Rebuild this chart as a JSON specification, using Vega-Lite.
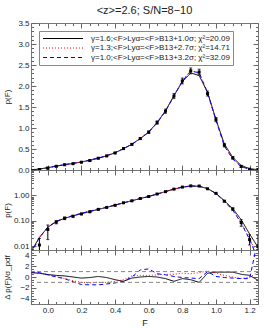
{
  "$schema": "https://vega.github.io/schema/vega-lite/v6.json",
  "padding": {"left": 2, "top": 4, "right": 14, "bottom": 6},
  "spacing": 0,
  "bounds": "flush",
  "config": {
    "view": {"stroke": "#777", "strokeWidth": 1},
    "font": "Liberation Sans",
    "axis": {"labelFontSize": 8, "labelColor": "#222", "titleFontSize": 8, "titleFontWeight": "normal", "titleColor": "#222", "tickColor": "#666", "domain": false, "grid": false, "labelFlush": false, "labelOverlap": false, "labelBound": false, "labelPadding": 7, "minExtent": 0}
  },
  "datasets": {
    "obs": [
      {"F": -0.05, "p": 0.011, "lo": 0.004, "hi": 0.02},
      {"F": 0.0, "p": 0.045, "lo": 0.018, "hi": 0.068},
      {"F": 0.05, "p": 0.088, "lo": 0.075, "hi": 0.101},
      {"F": 0.1, "p": 0.125, "lo": 0.11, "hi": 0.14},
      {"F": 0.15, "p": 0.15, "lo": 0.138, "hi": 0.162},
      {"F": 0.2, "p": 0.185, "lo": 0.173, "hi": 0.197},
      {"F": 0.25, "p": 0.225, "lo": 0.213, "hi": 0.237},
      {"F": 0.3, "p": 0.28, "lo": 0.267, "hi": 0.293},
      {"F": 0.35, "p": 0.335, "lo": 0.321, "hi": 0.349},
      {"F": 0.4, "p": 0.405, "lo": 0.39, "hi": 0.42},
      {"F": 0.45, "p": 0.51, "lo": 0.492, "hi": 0.528},
      {"F": 0.5, "p": 0.61, "lo": 0.59, "hi": 0.63},
      {"F": 0.55, "p": 0.75, "lo": 0.725, "hi": 0.775},
      {"F": 0.6, "p": 0.9, "lo": 0.87, "hi": 0.93},
      {"F": 0.65, "p": 1.13, "lo": 1.09, "hi": 1.17},
      {"F": 0.7, "p": 1.4, "lo": 1.35, "hi": 1.45},
      {"F": 0.75, "p": 1.76, "lo": 1.7, "hi": 1.82},
      {"F": 0.8, "p": 2.12, "lo": 2.05, "hi": 2.19},
      {"F": 0.85, "p": 2.36, "lo": 2.29, "hi": 2.43},
      {"F": 0.9, "p": 2.33, "lo": 2.26, "hi": 2.4},
      {"F": 0.95, "p": 1.82, "lo": 1.76, "hi": 1.88},
      {"F": 1.0, "p": 1.2, "lo": 1.15, "hi": 1.25},
      {"F": 1.05, "p": 0.59, "lo": 0.55, "hi": 0.63},
      {"F": 1.1, "p": 0.29, "lo": 0.26, "hi": 0.32},
      {"F": 1.15, "p": 0.085, "lo": 0.06, "hi": 0.11},
      {"F": 1.2, "p": 0.018, "lo": 0.011, "hi": 0.028},
      {"F": 1.25, "p": 0.01, "lo": 0.004, "hi": 0.026}
    ],
    "model": [
      {"F": -0.1, "a": 0.006, "b": 0.0055, "c": 0.005},
      {"F": -0.05, "a": 0.022, "b": 0.021, "c": 0.022},
      {"F": 0.0, "a": 0.055, "b": 0.055, "c": 0.056},
      {"F": 0.05, "a": 0.092, "b": 0.092, "c": 0.094},
      {"F": 0.1, "a": 0.125, "b": 0.126, "c": 0.128},
      {"F": 0.15, "a": 0.155, "b": 0.157, "c": 0.16},
      {"F": 0.2, "a": 0.19, "b": 0.193, "c": 0.196},
      {"F": 0.25, "a": 0.23, "b": 0.235, "c": 0.238},
      {"F": 0.3, "a": 0.278, "b": 0.283, "c": 0.286},
      {"F": 0.35, "a": 0.335, "b": 0.34, "c": 0.343},
      {"F": 0.4, "a": 0.41, "b": 0.412, "c": 0.415},
      {"F": 0.45, "a": 0.505, "b": 0.505, "c": 0.508},
      {"F": 0.5, "a": 0.615, "b": 0.612, "c": 0.612},
      {"F": 0.55, "a": 0.75, "b": 0.748, "c": 0.746},
      {"F": 0.6, "a": 0.905, "b": 0.905, "c": 0.9},
      {"F": 0.65, "a": 1.13, "b": 1.13, "c": 1.12},
      {"F": 0.7, "a": 1.41, "b": 1.41, "c": 1.4},
      {"F": 0.75, "a": 1.77, "b": 1.77, "c": 1.76},
      {"F": 0.8, "a": 2.1, "b": 2.12, "c": 2.12},
      {"F": 0.85, "a": 2.31, "b": 2.38, "c": 2.35},
      {"F": 0.9, "a": 2.25, "b": 2.3, "c": 2.32},
      {"F": 0.95, "a": 1.85, "b": 1.82, "c": 1.84},
      {"F": 1.0, "a": 1.2, "b": 1.19, "c": 1.19},
      {"F": 1.05, "a": 0.62, "b": 0.58, "c": 0.57},
      {"F": 1.1, "a": 0.3, "b": 0.27, "c": 0.26},
      {"F": 1.15, "a": 0.11, "b": 0.085, "c": 0.08},
      {"F": 1.2, "a": 0.03, "b": 0.02, "c": 0.018},
      {"F": 1.25, "a": 0.009, "b": 0.004, "c": 0.003}
    ],
    "resid": [
      {"F": -0.1, "a": 0.8, "b": 0.9, "c": 1.0},
      {"F": -0.05, "a": 0.7, "b": 0.7, "c": 0.8},
      {"F": 0.0, "a": 0.45, "b": 0.4, "c": 0.4},
      {"F": 0.05, "a": 0.3, "b": 0.1, "c": 0.0},
      {"F": 0.1, "a": 0.2, "b": -0.3, "c": -0.3},
      {"F": 0.15, "a": 0.0, "b": -0.7, "c": -0.9},
      {"F": 0.2, "a": -0.2, "b": -1.0, "c": -1.4},
      {"F": 0.25, "a": -0.1, "b": -1.1, "c": -1.45},
      {"F": 0.3, "a": 0.1, "b": -1.0, "c": -1.45},
      {"F": 0.35, "a": -0.1, "b": -1.0, "c": -1.3},
      {"F": 0.4, "a": -0.5, "b": -0.8, "c": -1.1},
      {"F": 0.45, "a": -0.8, "b": -0.5, "c": -0.8},
      {"F": 0.5, "a": -0.2, "b": 0.2, "c": 0.0},
      {"F": 0.55, "a": 0.0, "b": 0.3, "c": 1.3},
      {"F": 0.6, "a": 0.1, "b": 0.3, "c": 1.5},
      {"F": 0.65, "a": 0.0, "b": 0.4, "c": 0.6},
      {"F": 0.7, "a": -0.3, "b": 0.5, "c": 0.4},
      {"F": 0.75, "a": -0.8, "b": 0.5, "c": 0.1},
      {"F": 0.8, "a": -0.3, "b": 0.7, "c": -0.1},
      {"F": 0.85, "a": -0.5, "b": 0.6, "c": -0.2},
      {"F": 0.9, "a": -1.0, "b": 0.8, "c": -0.3},
      {"F": 0.95, "a": 0.7, "b": 1.1, "c": 1.0},
      {"F": 1.0, "a": 0.9, "b": 0.7, "c": 0.1},
      {"F": 1.05, "a": 0.9, "b": 0.3, "c": -0.1},
      {"F": 1.1, "a": 0.9, "b": 0.0, "c": -0.2},
      {"F": 1.15, "a": 0.5, "b": -0.3, "c": -0.3},
      {"F": 1.2, "a": 0.3, "b": 0.0, "c": -0.3},
      {"F": 1.25, "a": -0.6, "b": 0.8, "c": 7.0}
    ],
    "bands": [{"y": 1}, {"y": -1}]
  },
  "resolve": {"legend": {"color": "independent", "strokeDash": "independent"}},
  "vconcat": [
    {
      "width": 227,
      "height": 147,
      "title": {"text": "<z>=2.6; S/N=8−10", "fontSize": 11, "fontWeight": "normal", "color": "#222", "offset": 3, "anchor": "middle"},
      "resolve": {"axis": {"x": "independent", "y": "independent"}},
      "layer": [
        {
          "data": {"name": "model"},
          "transform": [{"fold": ["a", "b", "c"], "as": ["model", "p"]}],
          "mark": {"type": "line", "strokeWidth": 1, "clip": true},
          "encoding": {
            "x": {"field": "F", "type": "quantitative", "scale": {"domain": [-0.1, 1.25], "nice": false, "zero": false},
              "axis": {"orient": "bottom", "title": null, "labels": false, "maxExtent": 0,
                "values": [-0.1,-0.05,0,0.05,0.1,0.15,0.2,0.25,0.3,0.35,0.4,0.45,0.5,0.55,0.6,0.65,0.7,0.75,0.8,0.85,0.9,0.95,1,1.05,1.1,1.15,1.2,1.25],
                "tickSize": {"condition": {"test": "abs(datum.value/0.2 - round(datum.value/0.2)) < 0.01", "value": -5}, "value": -2.5}}},
            "y": {"field": "p", "type": "quantitative", "scale": {"domain": [0, 3.5], "nice": false, "zero": false},
              "axis": {"orient": "left", "title": "p(F)", "titleX": -20,
                "values": [0,0.1,0.2,0.3,0.4,0.5,0.6,0.7,0.8,0.9,1,1.1,1.2,1.3,1.4,1.5,1.6,1.7,1.8,1.9,2,2.1,2.2,2.3,2.4,2.5,2.6,2.7,2.8,2.9,3,3.1,3.2,3.3,3.4,3.5],
                "labelExpr": "abs(datum.value*2 - round(datum.value*2)) < 0.01 ? format(datum.value, '.1f') : ''",
                "tickSize": {"condition": {"test": "abs(datum.value*2 - round(datum.value*2)) < 0.01", "value": -5}, "value": -2.5}}},
            "color": {"field": "model", "type": "nominal", "scale": {"domain": ["a", "b", "c"], "range": ["#000000", "#ff0000", "#0000ff"]},
              "legend": {"title": null, "orient": "none", "legendX": 8, "legendY": 8, "symbolType": "stroke", "symbolSize": 1600, "symbolStrokeWidth": 1.2, "clipHeight": 9, "rowPadding": 0.5, "labelFontSize": 8, "labelOffset": 7, "labelLimit": 220, "padding": 3, "strokeColor": "#888", "fillColor": "white", "labelColor": "#222",
                "encode": {"symbols": {"update": {"stroke": {"scale": "color", "field": "value"}}}},
                "labelExpr": "datum.label == 'a' ? 'γ=1.6;<F>Lyα=<F>B13+1.0σ; χ²=20.09' : datum.label == 'b' ? 'γ=1.3;<F>Lyα=<F>B13+2.7σ; χ²=14.71' : 'γ=1.0;<F>Lyα=<F>B13+3.2σ; χ²=32.09'"}},
            "strokeDash": {"field": "model", "type": "nominal", "scale": {"domain": ["a", "b", "c"], "range": [[1, 0], [1, 2], [4, 3]]}}
          }
        },
        {
          "data": {"name": "obs"},
          "mark": {"type": "errorbar", "ticks": {"size": 3, "color": "black"}, "rule": {"color": "black"}, "clip": true},
          "encoding": {
            "x": {"field": "F", "type": "quantitative", "axis": null},
            "y": {"field": "lo", "type": "quantitative", "axis": null},
            "y2": {"field": "hi"}
          }
        },
        {
          "data": {"name": "obs"},
          "mark": {"type": "point", "shape": "square", "filled": true, "size": 9, "color": "black", "opacity": 1, "clip": true},
          "encoding": {
            "x": {"field": "F", "type": "quantitative", "axis": null},
            "y": {"field": "p", "type": "quantitative", "axis": null}
          }
        },
        {
          "data": {"name": "obs"},
          "mark": {"type": "point", "opacity": 0},
          "encoding": {
            "x": {"field": "F", "type": "quantitative",
              "axis": {"orient": "top", "title": null, "labels": false, "maxExtent": 0,
                "values": [-0.1,-0.05,0,0.05,0.1,0.15,0.2,0.25,0.3,0.35,0.4,0.45,0.5,0.55,0.6,0.65,0.7,0.75,0.8,0.85,0.9,0.95,1,1.05,1.1,1.15,1.2,1.25],
                "tickSize": {"condition": {"test": "abs(datum.value/0.2 - round(datum.value/0.2)) < 0.01", "value": -5}, "value": -2.5}}},
            "y": {"field": "p", "type": "quantitative",
              "axis": {"orient": "right", "title": null, "labels": false, "maxExtent": 0,
                "values": [0,0.1,0.2,0.3,0.4,0.5,0.6,0.7,0.8,0.9,1,1.1,1.2,1.3,1.4,1.5,1.6,1.7,1.8,1.9,2,2.1,2.2,2.3,2.4,2.5,2.6,2.7,2.8,2.9,3,3.1,3.2,3.3,3.4,3.5],
                "tickSize": {"condition": {"test": "abs(datum.value*2 - round(datum.value*2)) < 0.01", "value": -5}, "value": -2.5}}}
          }
        }
      ]
    },
    {
      "width": 227,
      "height": 80,
      "resolve": {"axis": {"x": "independent", "y": "independent"}},
      "layer": [
        {
          "data": {"name": "model"},
          "transform": [{"fold": ["a", "b", "c"], "as": ["model", "p"]}],
          "mark": {"type": "line", "strokeWidth": 1, "clip": true},
          "encoding": {
            "x": {"field": "F", "type": "quantitative", "scale": {"domain": [-0.1, 1.25], "nice": false, "zero": false},
              "axis": {"orient": "bottom", "title": null, "labels": false, "maxExtent": 0,
                "values": [-0.1,-0.05,0,0.05,0.1,0.15,0.2,0.25,0.3,0.35,0.4,0.45,0.5,0.55,0.6,0.65,0.7,0.75,0.8,0.85,0.9,0.95,1,1.05,1.1,1.15,1.2,1.25],
                "tickSize": {"condition": {"test": "abs(datum.value/0.2 - round(datum.value/0.2)) < 0.01", "value": -5}, "value": -2.5}}},
            "y": {"field": "p", "type": "quantitative", "scale": {"type": "log", "domain": [0.007, 10], "nice": false},
              "axis": {"orient": "left", "title": "p(F)", "titleX": -20,
                "values": [0.008,0.009,0.01,0.02,0.03,0.04,0.05,0.06,0.07,0.08,0.09,0.1,0.2,0.3,0.4,0.5,0.6,0.7,0.8,0.9,1,2,3,4,5,6,7,8,9,10],
                "labelExpr": "datum.value == 0.01 ? '0.01' : datum.value == 0.1 ? '0.10' : datum.value == 1 ? '1.00' : ''",
                "tickSize": {"condition": {"test": "datum.value == 0.01 || datum.value == 0.1 || datum.value == 1 || datum.value == 10", "value": -5}, "value": -2.5}}},
            "color": {"field": "model", "type": "nominal", "scale": {"domain": ["a", "b", "c"], "range": ["#000000", "#ff0000", "#0000ff"]}, "legend": null},
            "strokeDash": {"field": "model", "type": "nominal", "scale": {"domain": ["a", "b", "c"], "range": [[1, 0], [1, 2], [4, 3]]}, "legend": null}
          }
        },
        {
          "data": {"name": "obs"},
          "mark": {"type": "errorbar", "ticks": {"size": 3, "color": "black"}, "rule": {"color": "black"}, "clip": true},
          "encoding": {
            "x": {"field": "F", "type": "quantitative", "axis": null},
            "y": {"field": "lo", "type": "quantitative", "axis": null},
            "y2": {"field": "hi"}
          }
        },
        {
          "data": {"name": "obs"},
          "mark": {"type": "point", "shape": "square", "filled": true, "size": 9, "color": "black", "opacity": 1, "clip": true},
          "encoding": {
            "x": {"field": "F", "type": "quantitative", "axis": null},
            "y": {"field": "p", "type": "quantitative", "axis": null}
          }
        },
        {
          "data": {"name": "obs"},
          "mark": {"type": "point", "opacity": 0},
          "encoding": {
            "x": {"field": "F", "type": "quantitative",
              "axis": {"orient": "top", "title": null, "labels": false, "maxExtent": 0,
                "values": [-0.1,-0.05,0,0.05,0.1,0.15,0.2,0.25,0.3,0.35,0.4,0.45,0.5,0.55,0.6,0.65,0.7,0.75,0.8,0.85,0.9,0.95,1,1.05,1.1,1.15,1.2,1.25],
                "tickSize": {"condition": {"test": "abs(datum.value/0.2 - round(datum.value/0.2)) < 0.01", "value": -5}, "value": -2.5}}},
            "y": {"field": "p", "type": "quantitative",
              "axis": {"orient": "right", "title": null, "labels": false, "maxExtent": 0,
                "values": [0.008,0.009,0.01,0.02,0.03,0.04,0.05,0.06,0.07,0.08,0.09,0.1,0.2,0.3,0.4,0.5,0.6,0.7,0.8,0.9,1,2,3,4,5,6,7,8,9,10],
                "tickSize": {"condition": {"test": "datum.value == 0.01 || datum.value == 0.1 || datum.value == 1 || datum.value == 10", "value": -5}, "value": -2.5}}}
          }
        }
      ]
    },
    {
      "width": 227,
      "height": 54,
      "resolve": {"axis": {"x": "independent", "y": "independent"}},
      "layer": [
        {
          "data": {"name": "resid"},
          "transform": [{"fold": ["a", "b", "c"], "as": ["model", "r"]}],
          "mark": {"type": "line", "strokeWidth": 1, "clip": true},
          "encoding": {
            "x": {"field": "F", "type": "quantitative", "scale": {"domain": [-0.1, 1.25], "nice": false, "zero": false},
              "axis": {"orient": "bottom", "title": "F", "titleFontSize": 9, "titlePadding": 2,
                "values": [-0.1,-0.05,0,0.05,0.1,0.15,0.2,0.25,0.3,0.35,0.4,0.45,0.5,0.55,0.6,0.65,0.7,0.75,0.8,0.85,0.9,0.95,1,1.05,1.1,1.15,1.2,1.25],
                "labelExpr": "abs(datum.value/0.2 - round(datum.value/0.2)) < 0.01 ? format(datum.value, '.1f') : ''",
                "tickSize": {"condition": {"test": "abs(datum.value/0.2 - round(datum.value/0.2)) < 0.01", "value": -5}, "value": -2.5}}},
            "y": {"field": "r", "type": "quantitative", "scale": {"domain": [-5, 5], "nice": false},
              "axis": {"orient": "left", "title": "Δ p(F)/σ_pdf", "titleX": -20,
                "values": [-5,-4.5,-4,-3.5,-3,-2.5,-2,-1.5,-1,-0.5,0,0.5,1,1.5,2,2.5,3,3.5,4,4.5,5],
                "labelExpr": "abs(datum.value % 2) < 0.01 && abs(datum.value) < 4.5 ? format(datum.value, 'd') : ''",
                "tickSize": {"condition": {"test": "abs(datum.value % 2) < 0.01", "value": -5}, "value": -2.5}}},
            "color": {"field": "model", "type": "nominal", "scale": {"domain": ["a", "b", "c"], "range": ["#000000", "#ff0000", "#0000ff"]}, "legend": null},
            "strokeDash": {"field": "model", "type": "nominal", "scale": {"domain": ["a", "b", "c"], "range": [[1, 0], [1, 2], [4, 3]]}, "legend": null}
          }
        },
        {
          "data": {"name": "bands"},
          "mark": {"type": "rule", "color": "#888", "strokeDash": [4, 3], "strokeWidth": 1},
          "encoding": {
            "y": {"field": "y", "type": "quantitative", "axis": null}
          }
        },
        {
          "data": {"name": "resid"},
          "mark": {"type": "point", "opacity": 0},
          "encoding": {
            "x": {"field": "F", "type": "quantitative",
              "axis": {"orient": "top", "title": null, "labels": false, "maxExtent": 0,
                "values": [-0.1,-0.05,0,0.05,0.1,0.15,0.2,0.25,0.3,0.35,0.4,0.45,0.5,0.55,0.6,0.65,0.7,0.75,0.8,0.85,0.9,0.95,1,1.05,1.1,1.15,1.2,1.25],
                "tickSize": {"condition": {"test": "abs(datum.value/0.2 - round(datum.value/0.2)) < 0.01", "value": -5}, "value": -2.5}}},
            "y": {"field": "a", "type": "quantitative",
              "axis": {"orient": "right", "title": null, "labels": false, "maxExtent": 0,
                "values": [-5,-4.5,-4,-3.5,-3,-2.5,-2,-1.5,-1,-0.5,0,0.5,1,1.5,2,2.5,3,3.5,4,4.5,5],
                "tickSize": {"condition": {"test": "abs(datum.value % 2) < 0.01", "value": -5}, "value": -2.5}}}
          }
        }
      ]
    }
  ]
}
